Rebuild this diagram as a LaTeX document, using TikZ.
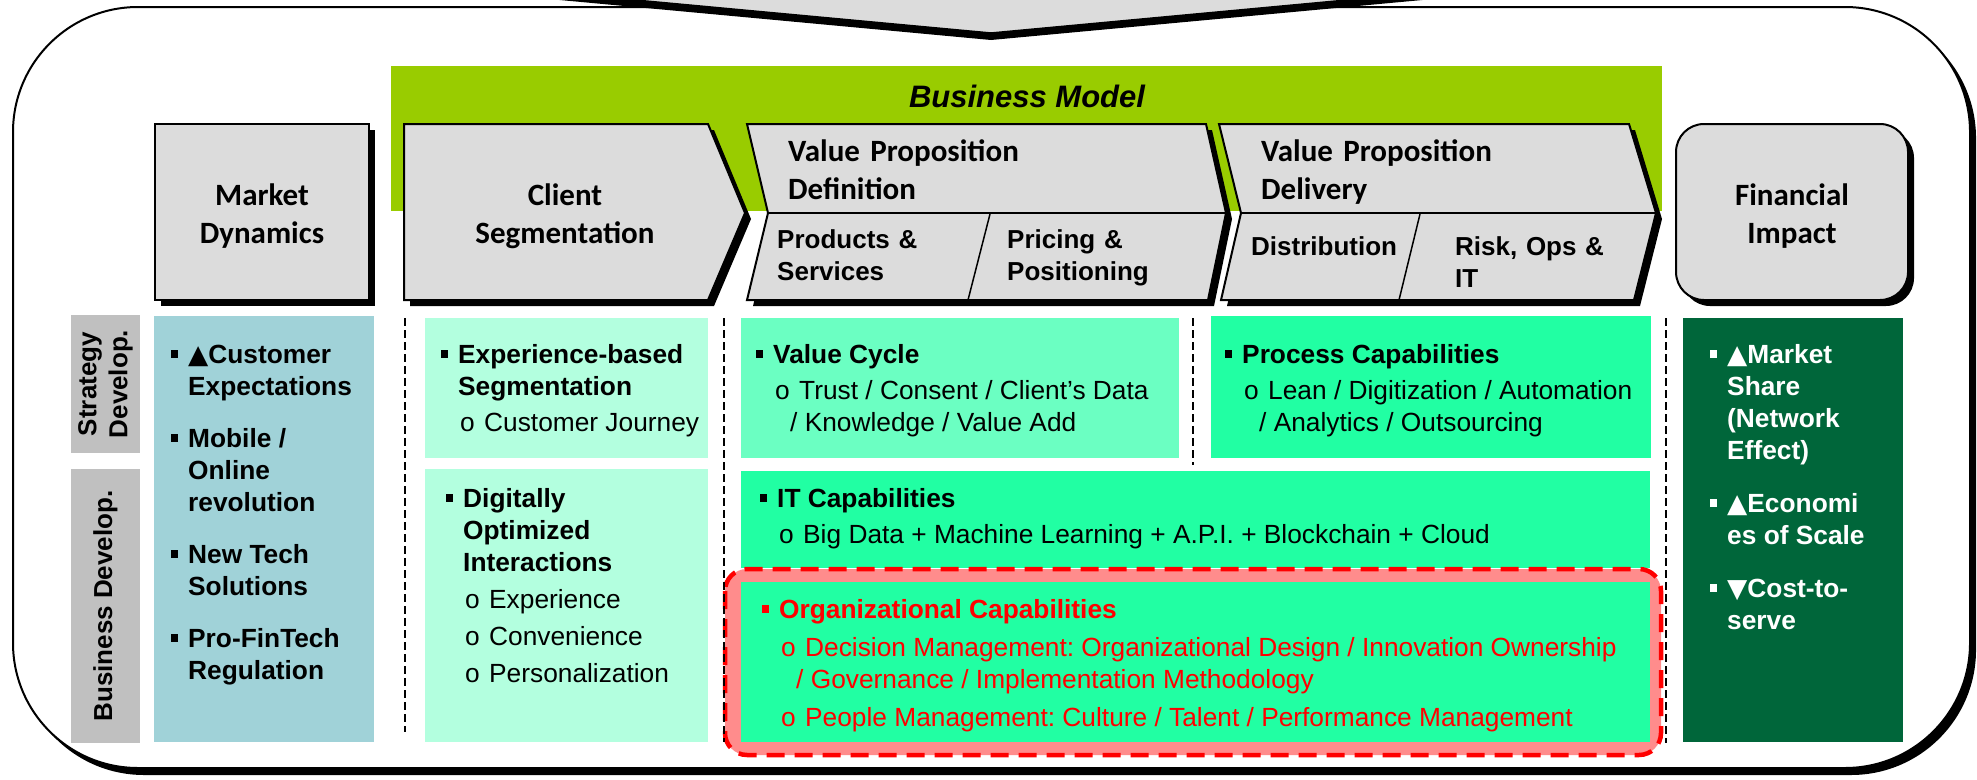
\documentclass[tikz,border=0pt]{standalone}
\usepackage{fontspec}
\setmainfont{Liberation Sans}
\newfontfamily\headfont{Carlito}
\newfontfamily\symfont{DejaVu Sans}
\usetikzlibrary{shadows}
\frenchspacing

\definecolor{hdrgray}{HTML}{DCDCDC}
\definecolor{bmgreen}{HTML}{99CC00}
\definecolor{mkteal}{HTML}{A0D2D8}
\definecolor{mintlight}{HTML}{B3FFDF}
\definecolor{mintmid}{HTML}{6BFFC2}
\definecolor{mintbright}{HTML}{21FFA3}
\definecolor{orgpink}{HTML}{FF8C8C}
\definecolor{fingreen}{HTML}{00663A}
\definecolor{lblgray}{HTML}{C0C0C0}

% bullets
\newcommand{\sqb}{\rule[5pt]{7pt}{8pt}}
\newcommand{\up}{{\symfont ▲}}
\newcommand{\dn}{{\symfont ▼}}
\newcommand{\lone}[1]{\par\hangindent=17pt\hangafter=1\noindent\makebox[17pt][l]{\sqb}{\bfseries #1}\par}
\newcommand{\ltwo}[1]{{\leftskip=19pt\hangindent=15pt\hangafter=1\noindent\makebox[24pt][l]{o}#1\par}}
% a block of bullets, baseline on its first line
\newcommand{\items}[2]{\vtop{\hsize=900pt\parindent=0pt\parskip=#1\relax #2}}

\begin{document}
\begin{tikzpicture}[x=1pt,y=-1pt]

% definitions
\tikzstyle{hdr} = [draw=black, line width=2pt, fill=hdrgray, drop shadow={shadow xshift=6pt, shadow yshift=-6pt, opacity=1, fill=black}]
\tikzstyle{head} = [inner sep=0pt, text width=280pt, align=center, anchor=base, font=\headfont\bfseries\fontsize{31}{38}\selectfont]
\tikzstyle{headl} = [head, align=left, anchor=base west]
\tikzstyle{sub} = [inner sep=0pt, text width=200pt, align=left, anchor=base west, font=\bfseries\fontsize{26}{32}\selectfont]
\tikzstyle{body} = [anchor=base west, inner sep=0pt, font=\fontsize{26.3}{32}\selectfont]
\tikzstyle{lbl} = [rotate=90, inner sep=0pt, align=center, font=\bfseries\fontsize{26}{31}\selectfont]
\tikzstyle{divider} = [line width=1.5pt, dash pattern=on 8pt off 4pt]

\useasboundingbox (0,0) rectangle (1977,779);
\clip (0,0) rectangle (1977,779);

% the frame
\fill[black, rounded corners=125pt] (19,13) rectangle (1976,775);
\draw[line width=2pt, fill=white, rounded corners=125pt] (13,7) rectangle (1970,768);

% arrow coming in from above
\fill[black] (441,-11) -- (991,40) -- (1541,-11) -- cycle;
\draw[line width=1.5pt, fill=hdrgray] (441,-18) -- (991,33) -- (1541,-18) -- cycle;

% business model band
\fill[bmgreen] (391,66) rectangle (1662,211);
\node (bm) [anchor=base, inner sep=0pt, font=\bfseries\itshape\fontsize{31}{38}\selectfont] at (1027,107) {Business Model};

% header shapes
\draw[hdr] (155,124) rectangle (369,300);
\draw[hdr] (404,124) -- (708,124) -- (745,213) -- (708,300) -- (404,300) -- cycle;
\draw[hdr] (747,124) -- (1206,124) -- (1226,213) -- (1208,300) -- (747,300) -- (768,213) -- cycle;
\draw[hdr] (1219,124) -- (1629,124) -- (1656,213) -- (1634,300) -- (1221,300) -- (1241,213) -- cycle;
\draw[hdr, rounded corners=28pt] (1676,124) rectangle (1908,300);

\draw[line width=2pt] (768,213) -- (1226,213);
\draw[line width=1.5pt] (990,214) -- (968,300);
\draw[line width=2pt] (1241,213) -- (1656,213);
\draw[line width=1.5pt] (1420,214) -- (1399,300);

\node (hmarket) [head] at (262,205) {Market\\Dynamics};
\node (hclient) [head] at (565,205) {Client\\Segmentation};
\node (hvpdef) [headl] at (788,161) {Value Proposition\\Definition};
\node (hvpdel) [headl] at (1261,161) {Value Proposition\\Delivery};
\node (hfin) [head] at (1792,205) {Financial\\Impact};

\node (sprod) [sub] at (777,248) {Products \&\\Services};
\node (sprice) [sub] at (1007,248) {Pricing \&\\Positioning};
\node (sdist) [sub] at (1251,255) {Distribution};
\node (srisk) [sub] at (1455,255) {Risk, Ops \&\\IT};

% row labels
\fill[lblgray] (71,315) rectangle (140,453);
\fill[lblgray] (71,469) rectangle (140,743);
\node (lstrat) [lbl] at (105.5,384) {Strategy\\Develop.};
\node (lbus) [lbl] at (105.5,606) {Business Develop.};

% content boxes
\fill[mkteal] (154,316) rectangle (374,742);
\fill[mintlight] (425,318) rectangle (708,458);
\fill[mintlight] (425,469) rectangle (708,742);
\fill[mintmid] (741,318) rectangle (1179,458);
\fill[mintbright] (1211,316) rectangle (1651,458);
\fill[mintbright] (741,471) rectangle (1650,568);
\draw[red, fill=orgpink, line width=4.5pt, dash pattern=on 18pt off 10pt, rounded corners=22pt] (725,569) rectangle (1661,755);
\fill[mintbright] (741,582) rectangle (1650,742);
\fill[fingreen] (1683,318) rectangle (1903,742);

\draw[divider] (405,318) -- (405,732);
\draw[divider] (724,318) -- (724,742);
\draw[divider] (1193,318) -- (1193,465);
\draw[divider] (1666,318) -- (1666,743);

% texts
\node (tmarket) [body] at (171,363) {\items{20pt}{\lone{\up Customer\newline Expectations}\lone{Mobile /\newline Online\newline revolution}\lone{New Tech\newline Solutions}\lone{Pro-FinTech\newline Regulation}}};

\node (tseg) [body] at (441,363) {\items{4pt}{\lone{Experience-based\newline Segmentation}\ltwo{Customer Journey}}};

\node (tdig) [body] at (446,507) {\items{5pt}{\lone{Digitally\newline Optimized\newline Interactions}\ltwo{Experience}\ltwo{Convenience}\ltwo{Personalization}}};

\node (tcycle) [body] at (756,363) {\items{4pt}{\lone{Value Cycle}\ltwo{Trust / Consent / Client’s Data\newline / Knowledge / Value Add}}};

\node (tproc) [body] at (1225,363) {\items{4pt}{\lone{Process Capabilities}\ltwo{Lean / Digitization / Automation\newline / Analytics / Outsourcing}}};

\node (tit) [body] at (760,507) {\items{4pt}{\lone{IT Capabilities}\ltwo{Big Data + Machine Learning + A.P.I. + Blockchain + Cloud}}};

\node (torg) [body, text=red] at (762,618) {\items{6pt}{\lone{Organizational Capabilities}\ltwo{Decision Management: Organizational Design / Innovation Ownership\newline / Governance / Implementation Methodology}\ltwo{People Management: Culture / Talent / Performance Management}}};

\node (tfin) [body, text=white] at (1710,363) {\items{21pt}{\lone{\up Market\newline Share\newline (Network\newline Effect)}\lone{\up Economi\newline es of Scale}\lone{\dn Cost-to-\newline serve}}};

\end{tikzpicture}
\end{document}
